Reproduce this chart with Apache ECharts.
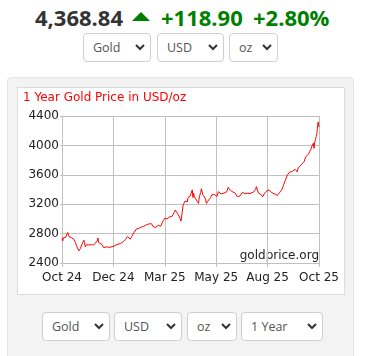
<!DOCTYPE html>
<html><head><meta charset="utf-8">
<script src="https://cdn.jsdelivr.net/npm/echarts@6/dist/echarts.min.js"></script>
<style>
html,body{margin:0;padding:0;width:368px;height:356px;overflow:hidden;background:#fff;font-family:"Open Sans",sans-serif;}
.big{position:absolute;font-weight:700;font-size:22px;line-height:22px;top:6px;white-space:nowrap;}
#tri{position:absolute;left:132px;top:12px;width:0;height:0;border-left:9px solid transparent;border-right:9px solid transparent;border-bottom:9px solid #008000;}
.sel{position:absolute;height:29px;box-sizing:border-box;border:1px solid #cfcfcf;border-radius:4px;background:#fff;color:#555;font-size:12.5px;line-height:27px;padding-left:9px;}
.sel svg{position:absolute;right:5px;top:10px;}
#panel{position:absolute;left:7px;top:77px;width:347px;height:290px;background:#f3f3f3;border:1px solid #e6e6e6;border-radius:4px;box-sizing:border-box;}
#box{position:absolute;left:17px;top:87px;width:328px;height:208px;background:#fff;border:1px solid #dcdcdc;box-sizing:border-box;}
#chart{position:absolute;left:17px;top:87px;width:328px;height:208px;}
</style>
</head><body>
<div class="big" style="left:35px;color:#333">4,368.84</div>
<div id="tri"></div>
<div class="big" style="left:161px;color:#008000">+118.90</div>
<div class="big" style="left:253px;color:#008000">+2.80%</div>

<div id="panel"></div>
<div id="box"></div>
<div id="chart"></div>
<div id="selects"></div>

<script>
// ---- data ----
const title = '1 Year Gold Price in USD/oz';
const watermark = 'goldprice.org';
const xTickLabels = ['Oct 24','Dec 24','Mar 25','May 25','Aug 25','Oct 25'];
const yTicks = [2400, 2800, 3200, 3600, 4000, 4400];
const days = [0,1,2,5,7,8,10,12,14,17,19,21,24,26,28,31,32,33,35,38,40,42,45,47,50,51,52,54,57,59,61,64,66,68,71,72,74,76,78,80,83,85,87,90,92,93,94,97,99,102,104,106,109,111,113,116,118,120,123,125,127,130,131,133,135,137,138,140,142,144,146,149,151,153,154,156,158,160,161,163,165,167,168,169,170,172,173,175,176,178,179,180,182,184,185,186,187,188,190,192,194,195,197,198,200,202,204,205,207,209,211,213,215,217,220,221,222,224,226,228,230,232,234,236,238,239,241,243,246,248,249,251,253,255,256,258,260,262,264,267,269,272,274,275,276,278,279,281,283,285,287,288,290,292,294,296,298,300,302,304,306,307,309,312,314,315,317,318,320,322,323,325,327,329,331,332,334,335,337,339,340,342,344,346,348,350,352,354,355,357,358,359,360,361,362,363,364,365];
const prices = [2740,2700,2745,2745,2750,2815,2760,2745,2740,2720,2680,2625,2565,2595,2645,2710,2680,2620,2650,2645,2640,2650,2645,2625,2700,2740,2680,2655,2650,2610,2625,2620,2630,2610,2625,2640,2630,2640,2650,2670,2665,2680,2690,2720,2735,2760,2740,2725,2760,2810,2830,2865,2870,2895,2890,2900,2905,2920,2930,2940,2935,2890,2865,2885,2905,2915,2920,2900,2905,2980,3010,3000,3020,3030,3010,3030,3065,3080,3120,3090,3060,3070,3000,2970,2990,3180,3210,3245,3220,3230,3290,3300,3310,3330,3395,3290,3350,3300,3280,3240,3210,3300,3360,3410,3330,3310,3270,3210,3240,3260,3290,3330,3350,3330,3305,3330,3370,3375,3340,3330,3350,3335,3370,3430,3400,3390,3375,3370,3350,3340,3300,3300,3315,3340,3360,3340,3345,3340,3350,3345,3360,3365,3370,3400,3440,3380,3350,3345,3330,3300,3340,3360,3375,3380,3395,3370,3355,3350,3340,3325,3320,3345,3360,3395,3440,3470,3520,3545,3595,3620,3635,3640,3645,3650,3675,3685,3640,3680,3710,3725,3740,3760,3780,3845,3830,3880,3920,3960,3990,4030,3960,4050,4080,4120,4160,4275,4320,4250];
const topSelects = ['Gold','USD','oz'];
const bottomSelects = ['Gold','USD','oz','1 Year'];

// ---- select boxes ----
const chev = '<svg width="10" height="7" viewBox="0 0 10 7"><polyline points="1,1 5,5 9,1" fill="none" stroke="#333" stroke-width="2"/></svg>';
function addSel(text, left, top, width){
  const d = document.createElement('div');
  d.className = 'sel';
  d.style.left = left + 'px'; d.style.top = top + 'px'; d.style.width = width + 'px';
  d.innerHTML = '<span>' + text + '</span>' + chev;
  document.getElementById('selects').appendChild(d);
}
const topPos = [[83,68],[157,67],[229,49]];
topSelects.forEach((t,i)=>addSel(t, topPos[i][0], 33, topPos[i][1]));
const botPos = [[42,68],[114,68],[187,50],[241,82]];
bottomSelects.forEach((t,i)=>addSel(t, botPos[i][0], 312, botPos[i][1]));

// ---- chart ----
const span = days[days.length-1];
const step = span / (xTickLabels.length - 1);
const chart = echarts.init(document.getElementById('chart'), null, {renderer:'canvas'});
chart.setOption({
  animation:false,
  grid:{left:45, right:26, top:29, bottom:32, containLabel:false},
  title:{text:title, left:6, top:5, padding:0, textStyle:{color:'#ff0000', fontSize:12, fontWeight:'normal', fontFamily:'DejaVu Sans'}},
  xAxis:{type:'value', min:0, max:span, interval:step,
    axisLine:{lineStyle:{color:'#c0c0c0'}},
    axisTick:{show:true, length:4, lineStyle:{color:'#c0c0c0'}},
    splitLine:{show:true, lineStyle:{color:'#c0c0c0', width:1}},
    axisLabel:{color:'#222', fontSize:12, fontFamily:'DejaVu Sans', margin:9,
      formatter:(v)=>xTickLabels[Math.round(v/step)] || ''}},
  yAxis:{type:'value', min:yTicks[0], max:yTicks[yTicks.length-1], interval:yTicks[1]-yTicks[0],
    axisLine:{show:true, lineStyle:{color:'#c0c0c0'}},
    axisTick:{show:true, length:2, lineStyle:{color:'#c0c0c0'}},
    splitLine:{show:true, lineStyle:{color:'#c0c0c0', width:1}},
    axisLabel:{color:'#222', fontSize:12, fontFamily:'DejaVu Sans', margin:3, formatter:(v)=>String(v)}},
  graphic:[{type:'text', right:26, top:163, style:{text:watermark, fill:'#222', font:'12px "DejaVu Sans"'}}],
  series:[{type:'line', data:days.map((d,i)=>[d, prices[i]]), showSymbol:false, symbol:'none',
    lineStyle:{color:'#ff0000', width:1}, itemStyle:{color:'#ff0000'}}]
});
</script>
</body></html>
